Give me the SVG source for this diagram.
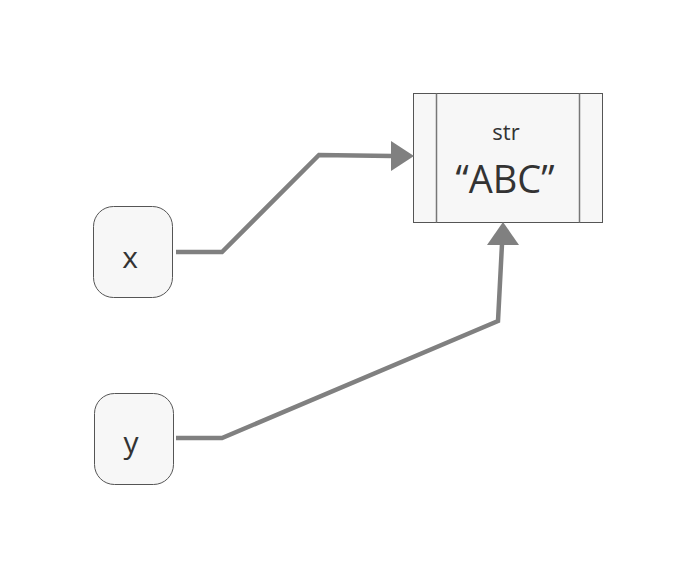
<svg xmlns="http://www.w3.org/2000/svg" width="696" height="579" viewBox="0 0 696 579">
<style>
.node{fill:#f7f7f7;stroke:#555;stroke-width:1}
.lbl{font-family:"Open Sans","Noto Sans",sans-serif;fill:#333;text-anchor:middle}
.edge{fill:none;stroke:#808080;stroke-width:4.5;stroke-linejoin:miter}
.head{fill:#808080}
</style>
<rect width="696" height="579" fill="#fff"/>
<g id="str">
<rect class="node" x="413.5" y="93.5" width="189" height="129"/>
<line x1="436.5" y1="93.5" x2="436.5" y2="222.5" stroke="#777" stroke-width="1.5"/>
<line x1="579.5" y1="93.5" x2="579.5" y2="222.5" stroke="#777" stroke-width="1.5"/>
<text class="lbl" x="506" y="140" font-size="22">str</text>
<text class="lbl" x="505" y="193" font-size="38">“ABC”</text>
</g>
<g id="x">
<rect class="node" x="93.5" y="206.5" width="79" height="91" rx="20"/>
<text class="lbl" x="130" y="268" font-size="30">x</text>
</g>
<g id="y">
<rect class="node" x="94.5" y="393.5" width="79" height="91" rx="20"/>
<text class="lbl" x="131" y="453" font-size="30">y</text>
</g>
<g id="connectors">
<polyline class="edge" points="176,252 222,252 319,155 392,156"/>
<polygon class="head" points="414,156 391,141 391,171"/>
<polyline class="edge" points="176,438 222,438 498,321 502,244"/>
<polygon class="head" points="503,222 487,245 519,245"/>
</g>
</svg>
